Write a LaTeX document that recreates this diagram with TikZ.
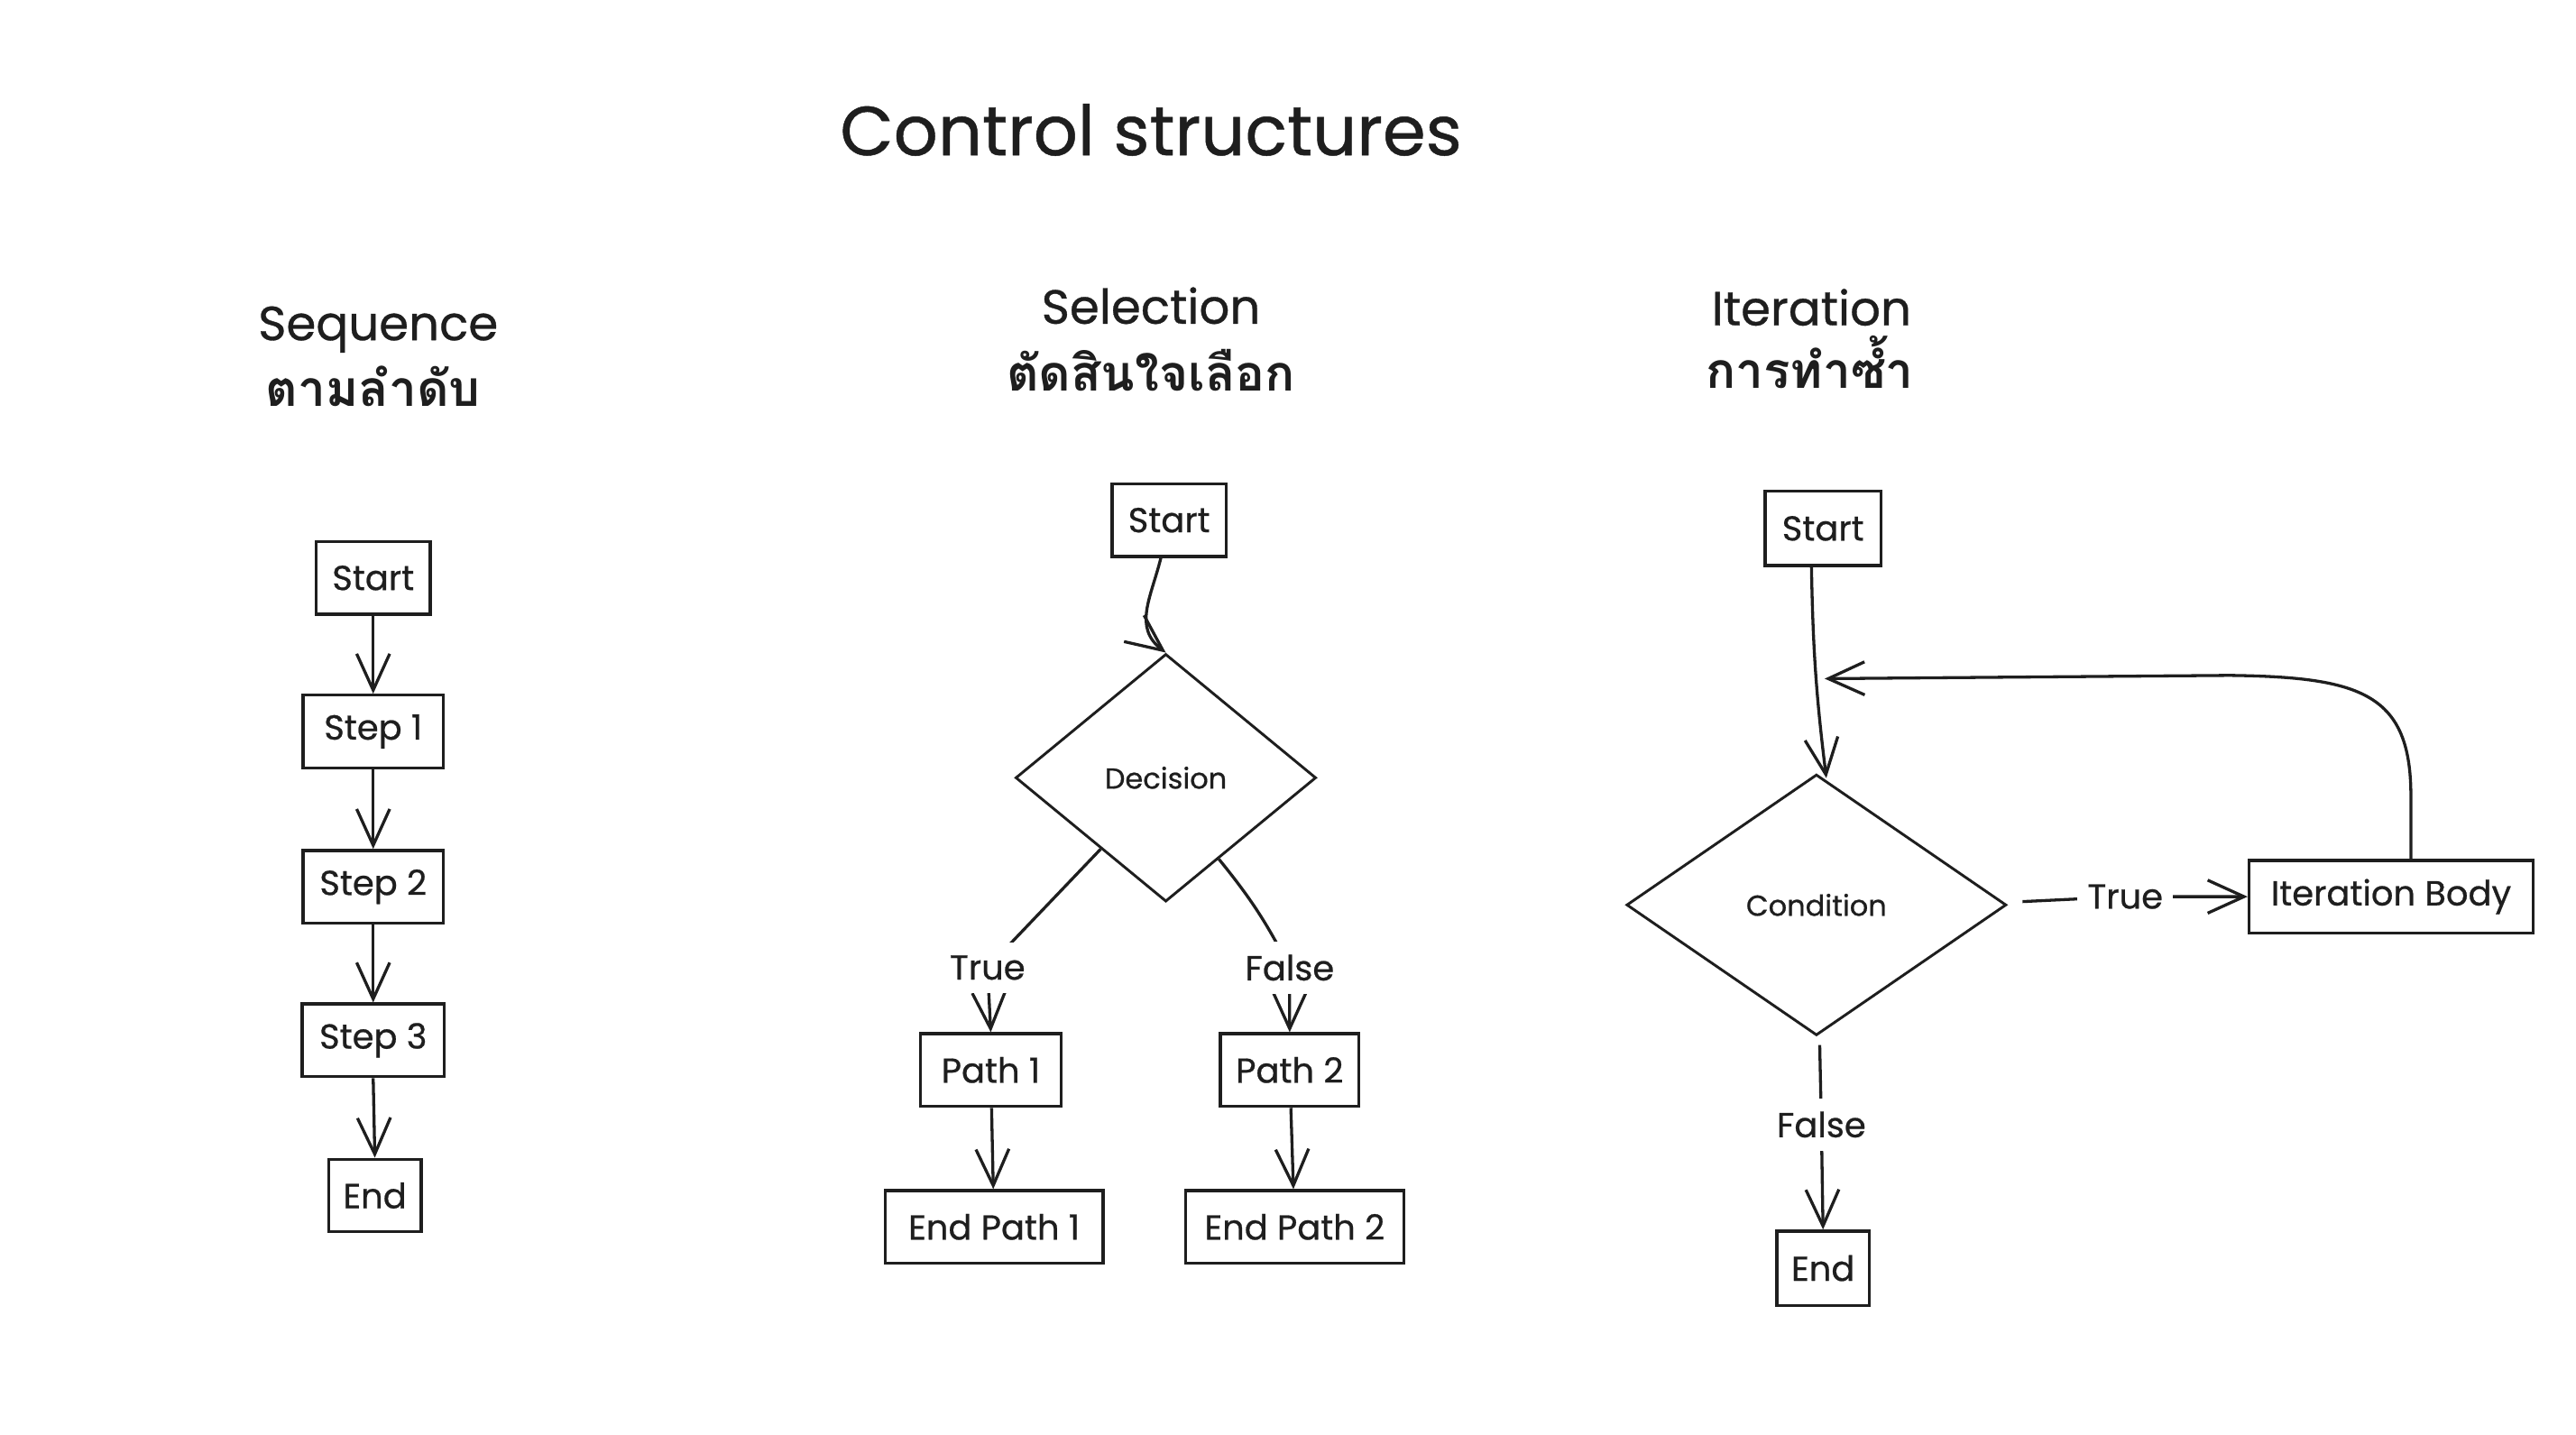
\documentclass[tikz,border=0pt]{standalone}
\usepackage{fontspec}
\setmainfont{Poppins}[FakeBold=0.6]
\newfontfamily\thaifont[Script=Thai]{Loma}
\usetikzlibrary{shapes.geometric,arrows.meta,calc}
\definecolor{ink}{HTML}{1E1E1E}
\begin{document}
\begin{tikzpicture}[x=1pt,y=-1pt,
  every node/.style={text=ink},
  box/.style={draw=ink,line width=1.8pt,inner sep=0pt,font=\fontsize{21}{21}\selectfont},
  dia/.style={draw=ink,diamond,line width=1.6pt,inner sep=0pt,font=\fontsize{17.5}{17.5}\selectfont},
  arr/.style={draw=ink,line width=1.8pt,-{Straight Barb[length=22pt,width=20pt,line width=1.8pt]}},
  lnk/.style={draw=ink,line width=1.8pt},
  lbl/.style={fill=white,inner xsep=6pt,inner ysep=8pt,font=\fontsize{21}{21}\selectfont},
  ttl/.style={font=\fontsize{42}{42}\selectfont,anchor=base},
  hd/.style={font=\fontsize{29}{29}\selectfont,anchor=base},
  th/.style={font=\thaifont\bfseries\fontsize{30}{30}\selectfont,anchor=base}
]
\fill[white] (0,0) rectangle (1560,868.5);
\useasboundingbox (0,0) rectangle (1560,868.5);

% titles
\node[ttl] (title) at (697,94) {Control structures};
\node[hd] (hseq) at (229,206) {Sequence};
\node[th] (tseq) at (226,246) {ตามลำดับ};
\node[hd] (hsel) at (697,196) {Selection};
\node[th] (tsel) at (697,237) {ตัดสินใจเลือก};
\node[hd] (hit) at (1097,197) {Iteration};
\node[th] (tit) at (1096,235) {การทำซ้ำ};

% Sequence
\node[box,minimum width=69pt,minimum height=44pt] (s0) at (226,350) {Start};
\node[box,minimum width=85pt,minimum height=44pt] (s1) at (226,443) {Step 1};
\node[box,minimum width=85pt,minimum height=44pt] (s2) at (226,537) {Step 2};
\node[box,minimum width=86pt,minimum height=44pt] (s3) at (226,630) {Step 3};
\node[box,minimum width=56pt,minimum height=44pt] (s4) at (227,724) {End};
\draw[arr] (s0) -- (s1);
\draw[arr] (s1) -- (s2);
\draw[arr] (s2) -- (s3);
\draw[arr] (s3.south) -- (s4.north);

% Selection
\node[box,minimum width=69pt,minimum height=44pt] (st2) at (708,315) {Start};
\node[dia,minimum width=182pt,minimum height=150pt] (dec) at (706,471) {Decision};
\node[box,minimum width=85pt,minimum height=44pt] (p1) at (600,648) {Path 1};
\node[box,minimum width=84pt,minimum height=44pt] (p2) at (781,648) {Path 2};
\node[box,minimum width=132pt,minimum height=44pt] (e1) at (602,743) {End Path 1};
\node[box,minimum width=132pt,minimum height=44pt] (e2) at (784,743) {End Path 2};
\coordinate (tb) at (598,586);
\coordinate (fb) at (781,586);
\draw[arr] ($(st2.south)+(-5,0)$) .. controls (697,362) and (686,380) .. (dec.north);
\draw[arr] ($(dec.west)!0.57!(dec.south)$) -- (tb) -- (p1.north);
\draw[arr] ($(dec.east)!0.65!(dec.south)$) to[bend left=6] (fb) -- (p2.north);
\node[lbl] (tl1) at (tb) {True};
\node[lbl] (fl1) at (fb) {False};
\draw[arr] (p1) -- (e1);
\draw[arr] (p2) -- (e2);

% Iteration
\node[box,minimum width=70pt,minimum height=45pt] (st3) at (1104,320) {Start};
\node[dia,minimum width=230pt,minimum height=158pt] (cond) at (1100,548) {Condition};
\node[box,minimum width=172pt,minimum height=44pt] (body) at (1448,543) {Iteration Body};
\node[box,minimum width=56pt,minimum height=45pt] (end3) at (1104,768) {End};
\coordinate (tl) at (1287,543);
\coordinate (fl) at (1103,681);
\coordinate (loopin) at (1105,411);
\draw[arr] ($(st3.south)+(-7,0)$) to[bend right=3] ($(cond.north)+(6,3)$);
\draw[arr] ($(cond.east)+(9,-2)$) -- (tl) -- (body.west);
\draw[arr] ($(cond.south)+(2,5)$) -- (fl) -- (end3.north);
\node[lbl] (tl2) at (tl) {True};
\node[lbl] (fl2) at (fl) {False};
\draw[arr] ($(body.north)+(12,0)$) -- (1460,482) .. controls (1460,420) and (1430,410) .. (1350,409) -- (loopin);
\end{tikzpicture}
\end{document}
